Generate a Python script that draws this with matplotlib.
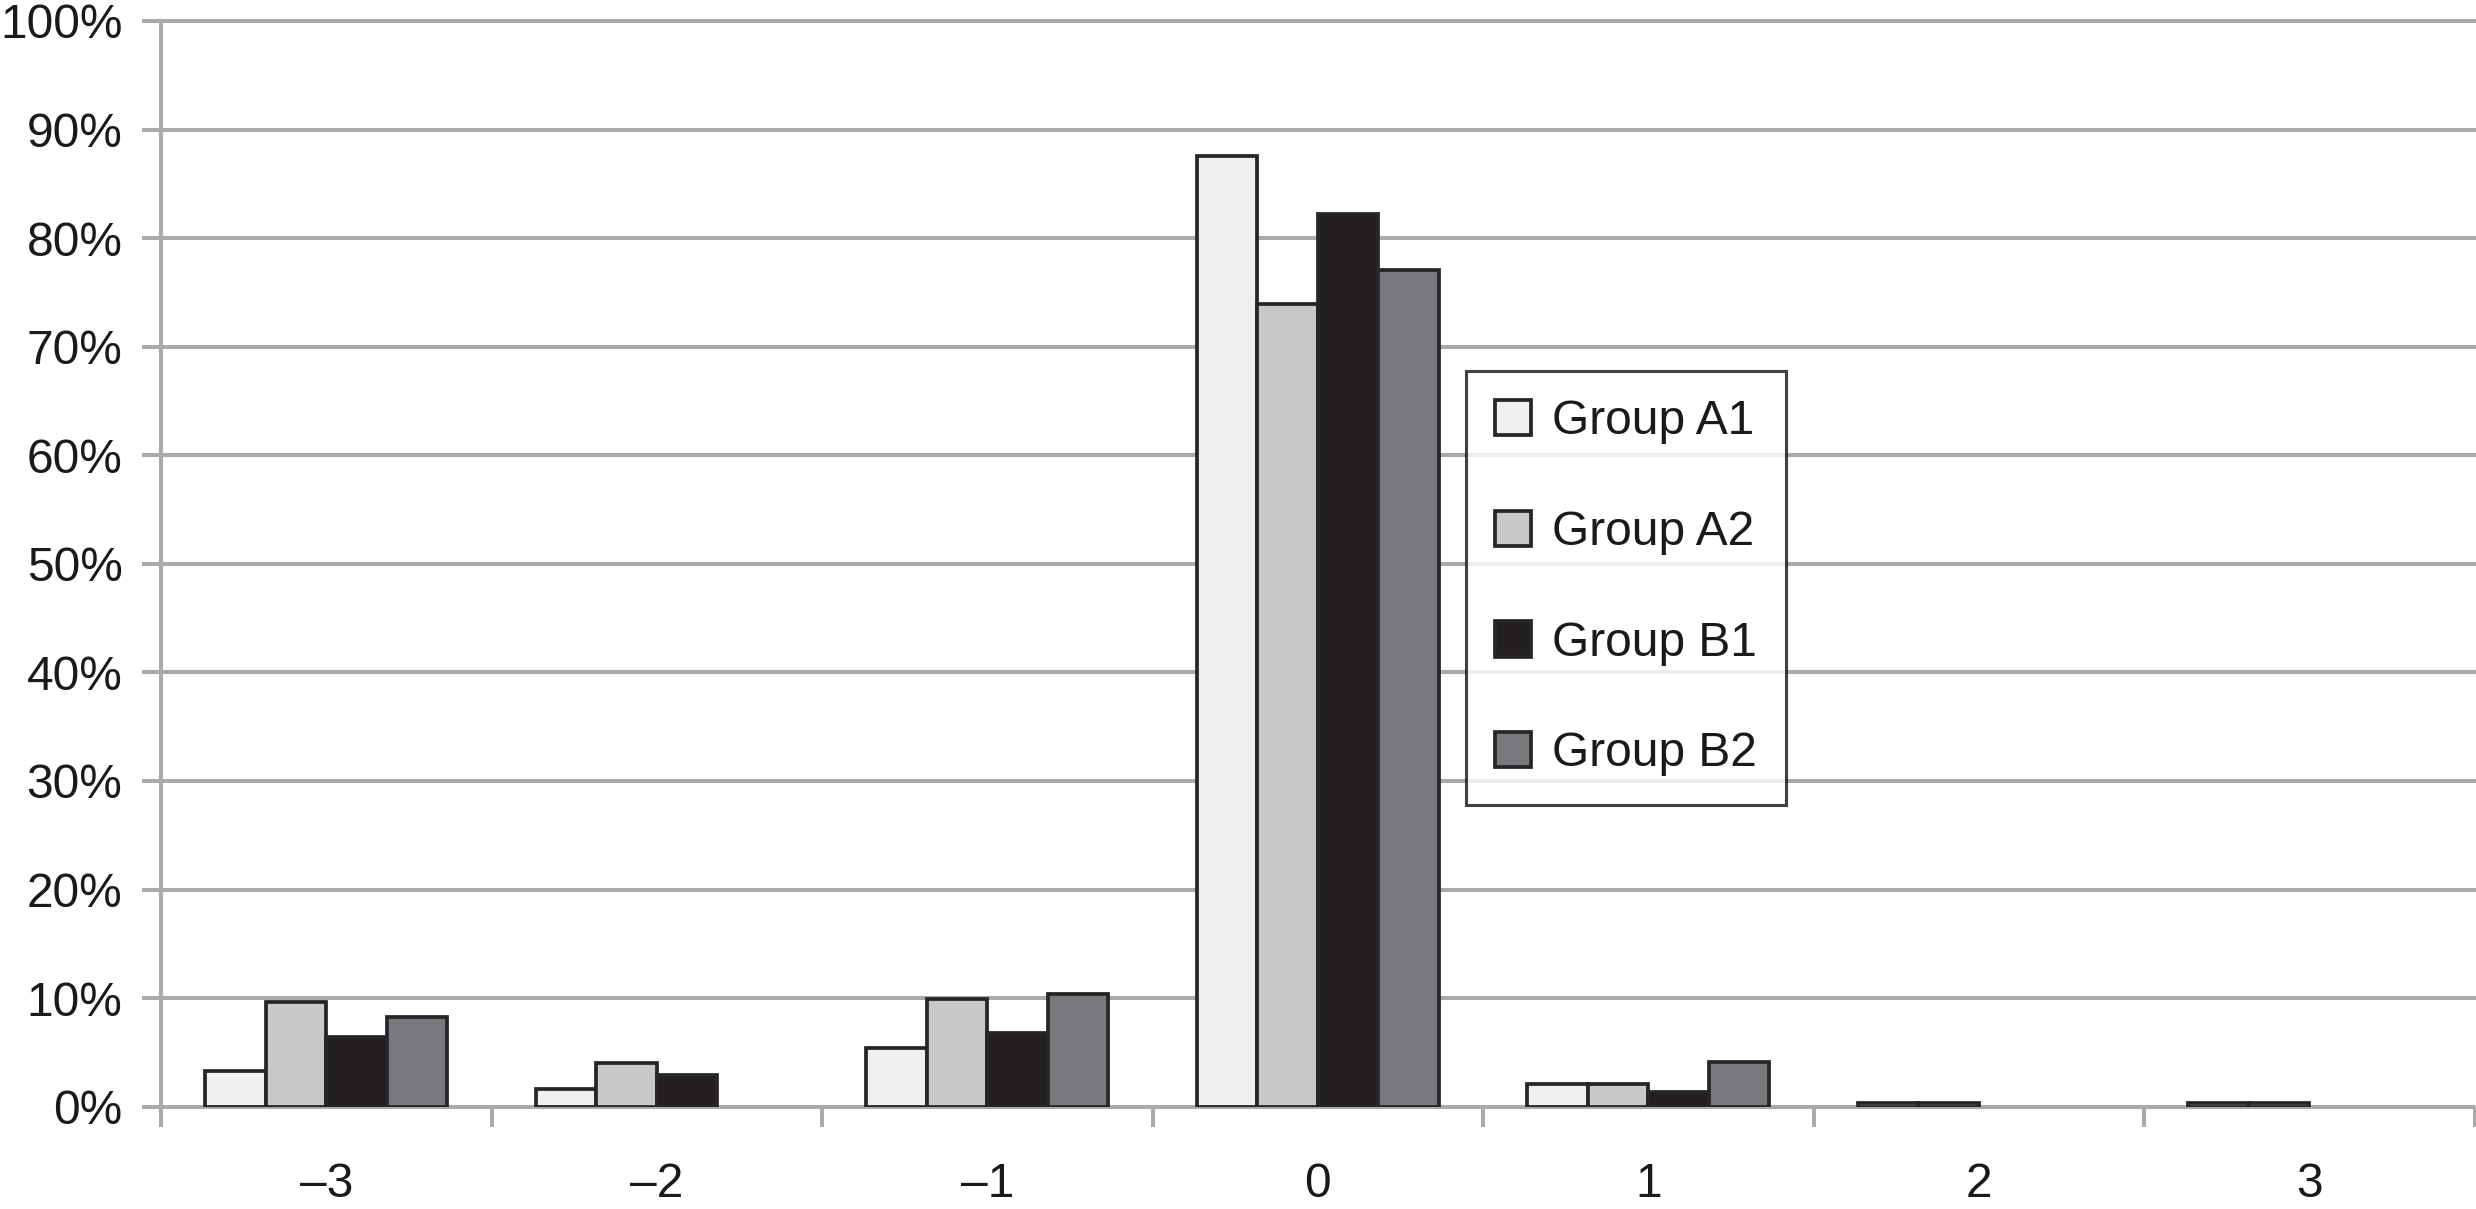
import numpy as np
import matplotlib
matplotlib.use("Agg")
import matplotlib.pyplot as plt
from matplotlib.patches import Patch

plt.rcParams['font.family'] = ['Liberation Sans', 'DejaVu Sans']

categories = ["\u20133", "\u20132", "\u20131", "0", "1", "2", "3"]
series_names = ["Group A1", "Group A2", "Group B1", "Group B2"]
group_a1 = [3.3, 1.6, 5.4, 87.6, 2.1, 0.3, 0.3]
group_a2 = [9.6, 4.0, 9.9, 73.9, 2.1, 0.3, 0.3]
group_b1 = [6.4, 2.9, 6.75, 82.2, 1.4, 0.0, 0.0]
group_b2 = [8.3, 0.0, 10.4, 77.1, 4.1, 0.0, 0.0]
y_ticks = [0, 10, 20, 30, 40, 50, 60, 70, 80, 90, 100]

series = [group_a1, group_a2, group_b1, group_b2]
fills = ["#eff0ee", "#c7c8ca", "#231f20", "#78797c"]
edge = "#262626"
grid_c = "#a9aaac"
FS = 34.5

fig = plt.figure(figsize=(24.76, 12.09), dpi=100)
ax = fig.add_axes([161/2476, 1 - 1106.7/1209, (2474.5 - 161)/2476, (1106.7 - 21)/1209])

x = np.arange(len(categories))
bw = 0.183
for i, (vals, col) in enumerate(zip(series, fills)):
    offs = (i - 1.5) * bw
    v = np.asarray(vals, dtype=float)
    m = v > 0
    ax.bar(x[m] + offs, v[m] / 100.0, width=bw, color=col, edgecolor=edge,
           linewidth=2.7, zorder=3)

ax.set_xlim(-0.5, len(categories) - 0.5)
ax.set_ylim(0, 1.0)

ax.set_yticks([t / 100 for t in y_ticks])
ax.set_yticklabels([f"{t}%" for t in y_ticks])
ax.yaxis.grid(True, color=grid_c, linewidth=2.9, zorder=1)
for gl in ax.yaxis.get_gridlines():
    gl.set_clip_on(False)
ax.tick_params(axis='y', length=13.7, width=2.9, color=grid_c, pad=14.0,
               labelsize=FS, labelcolor="#1a1a1a")

# x: ticks at category boundaries, labels at centres
ax.set_xticks(np.arange(len(categories) + 1) - 0.5)
ax.set_xticklabels([])
ax.set_xticks(x, minor=True)
ax.set_xticklabels(categories, minor=True)
ax.tick_params(axis='x', which='major', length=14.4, width=2.9, color=grid_c)
ax.tick_params(axis='x', which='minor', length=0, pad=40, labelsize=FS,
               labelcolor="#1a1a1a")

for s in ["top", "right", "bottom"]:
    ax.spines[s].set_visible(False)
ax.spines["left"].set_color(grid_c)
ax.spines["left"].set_linewidth(2.9)
ax.set_axisbelow(True)

handles = [Patch(facecolor=c, edgecolor=edge, linewidth=2.7, label=n)
           for c, n in zip(fills, series_names)]
leg = fig.legend(handles=handles, loc="upper left",
                 bbox_to_anchor=(1466/2476, 1 - 370.7/1209),
                 fontsize=FS, frameon=True, fancybox=False, borderaxespad=0,
                 handlelength=0.75, handleheight=0.75, handletextpad=0.45,
                 labelspacing=1.37, borderpad=0.6)
leg.get_frame().set_edgecolor("#111111")
leg.get_frame().set_linewidth(2.2)
for t in leg.get_texts():
    t.set_color("#1a1a1a")

fig.savefig("out.png", dpi=100, facecolor="white")
